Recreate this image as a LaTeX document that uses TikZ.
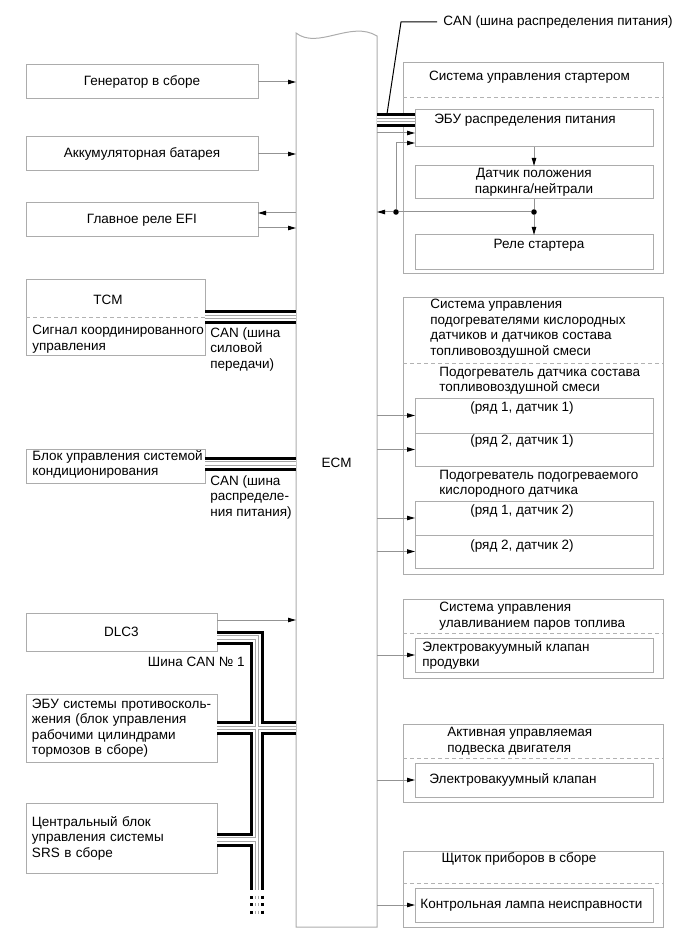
\documentclass[tikz,border=0pt]{standalone}
\usepackage{fontspec}
\setmainfont{Liberation Sans}
\usetikzlibrary{arrows.meta, positioning}

\begin{document}
\begin{tikzpicture}[
        x=0.5pt, y=-0.5pt,
        % 文字样式
        txt/.style={inner sep=0pt, align=left,
            font=\fontsize{6.75}{7.75}\selectfont},
        % 方框样式（宽, 高）
        box/.style 2 args={
            rectangle,
            draw=gray!65,
            line width=0.5pt,
            outer sep=0pt, inner sep=0pt,
            minimum width=#1,
            minimum height=#2,
            align=center,
            font=\fontsize{6.75}{7.75}\selectfont
        },
        % 分组内的虚线
        divider/.style={draw=gray!60, line width=0.5pt, dash pattern=on 2pt off 1.5pt},
        % 连线与箭头
        wire/.style={draw=gray!85, line width=0.5pt},
        arrow/.style={wire, -{Triangle[length=4pt, width=2.2pt, color=black]}},
        dot/.style={circle, fill=black, inner sep=0pt, minimum size=2.8pt},
        % CAN 总线（粗黑双线 + 灰色细线）
        bus/.style={
            draw=black, line width=7pt,
            postaction={draw=white, line width=4pt},
            postaction={draw=gray!70, line width=2.4pt},
            postaction={draw=white, line width=1.4pt}
        }
    ]

    \useasboundingbox (0,0) rectangle (690,952);

    % ================= 左侧模块 =================
    \node[box={116pt}{17pt}] (gen) at (142,82) {Генератор в сборе};
    \node[box={116pt}{17pt}] (bat) at (142,154) {Аккумуляторная батарея};
    \node[box={116pt}{17pt}] (efi) at (142,220) {Главное реле EFI};

    \node[box={89.5pt}{38pt}] (tcm) at (115.5,317) {};
    \draw[divider] (tcm.west) -- (tcm.east);
    \node[txt, below=8pt of tcm.north, xshift=-3.75pt] (tcmt) {TCM};
    \node[txt, below right=4pt and 3pt of tcm.west] (tcms) {Сигнал координированного\\управления};

    \node[box={89.5pt}{17pt}] (ac) at (115.5,466) {};
    \node[txt, below right=0.5pt and 3pt of ac.north west] (act) {Блок управления системой\\кондиционирования};

    \node[box={95.5pt}{19pt}] (dlc) at (121.5,632) {DLC3};
    \node[box={95.5pt}{34pt}, text width=89.5pt, align=left] (abs) at (121.5,728)
        {\mbox{ЭБУ системы противосколь-}\\жения (блок управления\\рабочими цилиндрами\\тормозов в сборе)};
    \node[box={95.5pt}{35pt}, text width=89.5pt, align=left] (srs) at (121.5,838)
        {Центральный блок\\управления системы\\SRS в сборе};

    % ================= ECM =================
    \node[minimum width=40.5pt, minimum height=447pt, inner sep=0pt, outer sep=0pt] (ecm) at (336.5,480) {};
    \draw[draw=gray!65, line width=0.5pt] (ecm.north west)
        .. controls ([xshift=11pt,yshift=-8.5pt]ecm.north west) and ([xshift=-13pt,yshift=6.5pt]ecm.north east)
        .. ([yshift=-1.5pt]ecm.north east) -- (ecm.south east) -- (ecm.south west) -- cycle;
    \node[txt] (ecmt) at ([yshift=8.5pt]ecm.center) {ECM};

    % ================= 右侧：起动系统 =================
    \node[box={130pt}{105pt}] (st) at (533,168) {};
    \draw[divider] ([yshift=-17.5pt]st.north west) -- ([yshift=-17.5pt]st.north east);
    \node[txt, below=4pt of st.north, xshift=-1.75pt] (stt) {Система управления стартером};
    \node[box={119pt}{18.5pt}] (ebu) at (534,128.5) {};
    \node[txt, below=1.75pt of ebu.north, xshift=-4.5pt] (ebut) {ЭБУ распределения питания};
    \node[box={119pt}{16.5pt}] (park) at (534,182.5) {Датчик положения\\паркинга/нейтрали};
    \node[box={119pt}{17pt}] (relay) at (534,252) {};
    \node[txt, below=1.75pt of relay.north, xshift=2.5pt] (relayt) {Реле стартера};

    % ================= 右侧：加热器系统 =================
    \node[box={130pt}{138.5pt}] (ht) at (533,435.5) {};
    \draw[divider] ([yshift=-33pt]ht.north west) -- ([yshift=-33pt]ht.north east);
    \node[txt, below right=1pt and 13.5pt of ht.north west] (htt)
        {Система управления\\подогревателями кислородных\\датчиков и датчиков состава\\топливовоздушной смеси};
    \node[box={119pt}{17.5pt}] (ha1) at (534,415.5) {};
    \node[box={119pt}{16.5pt}, below=0pt of ha1] (ha2) {};
    \node[txt, above right=1.5pt and 12pt of ha1.north west] (hat) {Подогреватель датчика состава\\топливовоздушной смеси};
    \node[txt, below=1.5pt of ha1.north, xshift=-6pt] (ha1t) {(ряд 1, датчик 1)};
    \node[txt, below=0.5pt of ha2.north, xshift=-6pt] (ha2t) {(ряд 2, датчик 1)};
    \node[box={119pt}{17pt}] (hb1) at (534,518) {};
    \node[box={119pt}{16.5pt}, below=0pt of hb1] (hb2) {};
    \node[txt, above right=1.5pt and 12pt of hb1.north west] (hbt) {Подогреватель подогреваемого\\кислородного датчика};
    \node[txt, below=1.5pt of hb1.north, xshift=-6pt] (hb1t) {(ряд 1, датчик 2)};
    \node[txt, below=2pt of hb2.north, xshift=-6pt] (hb2t) {(ряд 2, датчик 2)};

    % ================= 右侧：其他系统 =================
    \node[box={130pt}{39.5pt}] (ev) at (533,638.5) {};
    \draw[divider] ([yshift=-17pt]ev.north west) -- ([yshift=-17pt]ev.north east);
    \node[txt, below right=1.5pt and 18pt of ev.north west] (evt) {Система управления\\улавливанием паров топлива};
    \node[box={119pt}{17pt}] (ei) at (534,655) {};
    \node[txt, below right=1.5pt and 3.5pt of ei.north west] (eit) {Электровакуумный клапан\\продувки};

    \node[box={130pt}{39pt}] (mt) at (533,763) {};
    \draw[divider] ([yshift=-17pt]mt.north west) -- ([yshift=-17pt]mt.north east);
    \node[txt, below right=1.5pt and 22pt of mt.north west] (mtt) {Активная управляемая\\подвеска двигателя};
    \node[box={119pt}{17pt}] (mi) at (534,780) {};
    \node[txt, right=7pt of mi.west] (mit) {Электровакуумный клапан};

    \node[box={130pt}{38pt}] (it) at (533,889) {};
    \draw[divider] ([yshift=-16pt]it.north west) -- ([yshift=-16pt]it.north east);
    \node[txt, below=0.5pt of it.north, xshift=-7pt] (itt) {Щиток приборов в сборе};
    \node[box={119pt}{17pt}] (ii) at (534,905) {};
    \node[txt, right=2.5pt of ii.west] (iit) {Контрольная лампа неисправности};

    % ================= 箭头 =================
    \draw[arrow] (gen.east) -- (gen.east -| ecm.west);
    \draw[arrow] (bat.east) -- (bat.east -| ecm.west);
    \draw[arrow] ([yshift=3.5pt]efi.east -| ecm.west) -- ([yshift=3.5pt]efi.east);
    \draw[arrow] ([yshift=-4pt]efi.east) -- ([yshift=-4pt]efi.east -| ecm.west);
    \draw[arrow] ([yshift=6pt]dlc.east) -- ([yshift=6pt]dlc.east -| ecm.west);

    \node[dot] (j2) at ([yshift=-6.5pt]park.south) {};
    \node[dot] (j1) at ([xshift=9.5pt]j2 -| ecm.east) {};
    \draw[arrow] (ebu.south) -- (park.north);
    \draw[wire] (park.south) -- (j2);
    \draw[arrow] (j2) -- (relay.north);
    \draw[wire] (j2) -- (j1);
    \draw[arrow] (j1) -- (j1 -| ecm.east);
    \draw[arrow] (j1) |- ([yshift=-7.25pt]ebu.west);
    \draw[arrow] ([yshift=-2.25pt]ebu.west -| ecm.east) -- ([yshift=-2.25pt]ebu.west);

    \draw[arrow] (ha1.west -| ecm.east) -- (ha1.west);
    \draw[arrow] (ha2.west -| ecm.east) -- (ha2.west);
    \draw[arrow] (hb1.west -| ecm.east) -- (hb1.west);
    \draw[arrow] (hb2.west -| ecm.east) -- (hb2.west);
    \draw[arrow] (ei.west -| ecm.east) -- (ei.west);
    \draw[arrow] (mi.west -| ecm.east) -- (mi.west);
    \draw[arrow] (ii.west -| ecm.east) -- (ii.west);

    % ================= CAN 总线 =================
    \draw[bus] (tcm.east) -- (tcm.east -| ecm.west);
    \draw[bus] ([yshift=1.25pt]ac.east) -- ([yshift=1.25pt]ac.east -| ecm.west);
    \draw[bus] ([yshift=4.25pt]ebu.west -| ecm.east) -- ([yshift=4.25pt]ebu.west);

    \coordinate (bend) at ([xshift=20pt,yshift=-8.5pt]srs.south east);
    \draw[bus] ([yshift=-2.75pt]dlc.east) -| (bend)
        (abs.east) -- (abs.east -| ecm.west)
        ([yshift=-0.75pt]srs.east) -- ([yshift=-0.75pt]srs.east -| bend);
    \foreach \k in {0,1,2}
        \draw[bus] ([yshift={-2.75pt-3.75pt*\k}]bend) -- ++(0,3);

    % 总线标注
    \node[txt, below right=5pt and 2.5pt of tcm.east] (tcmc) {CAN (шина\\силовой\\передачи)};
    \node[txt, below right=4.5pt and 2.5pt of ac.east] (acc) {CAN (шина\\распределе-\\ния питания)};
    \node[txt, anchor=east] (can1) at ([xshift=14pt,yshift=-5.5pt]dlc.south east) {Шина CAN № 1};
    \node[txt, anchor=west] (canlbl) at (443,22) {CAN (шина распределения питания)};
    \coordinate (canpt) at ([xshift=5pt,yshift=7.25pt]ebu.west -| ecm.east);
    \draw[line width=0.5pt] (canpt) -- ([xshift=-21pt]canlbl.west) -- ([xshift=-3pt]canlbl.west);

\end{tikzpicture}
\end{document}
